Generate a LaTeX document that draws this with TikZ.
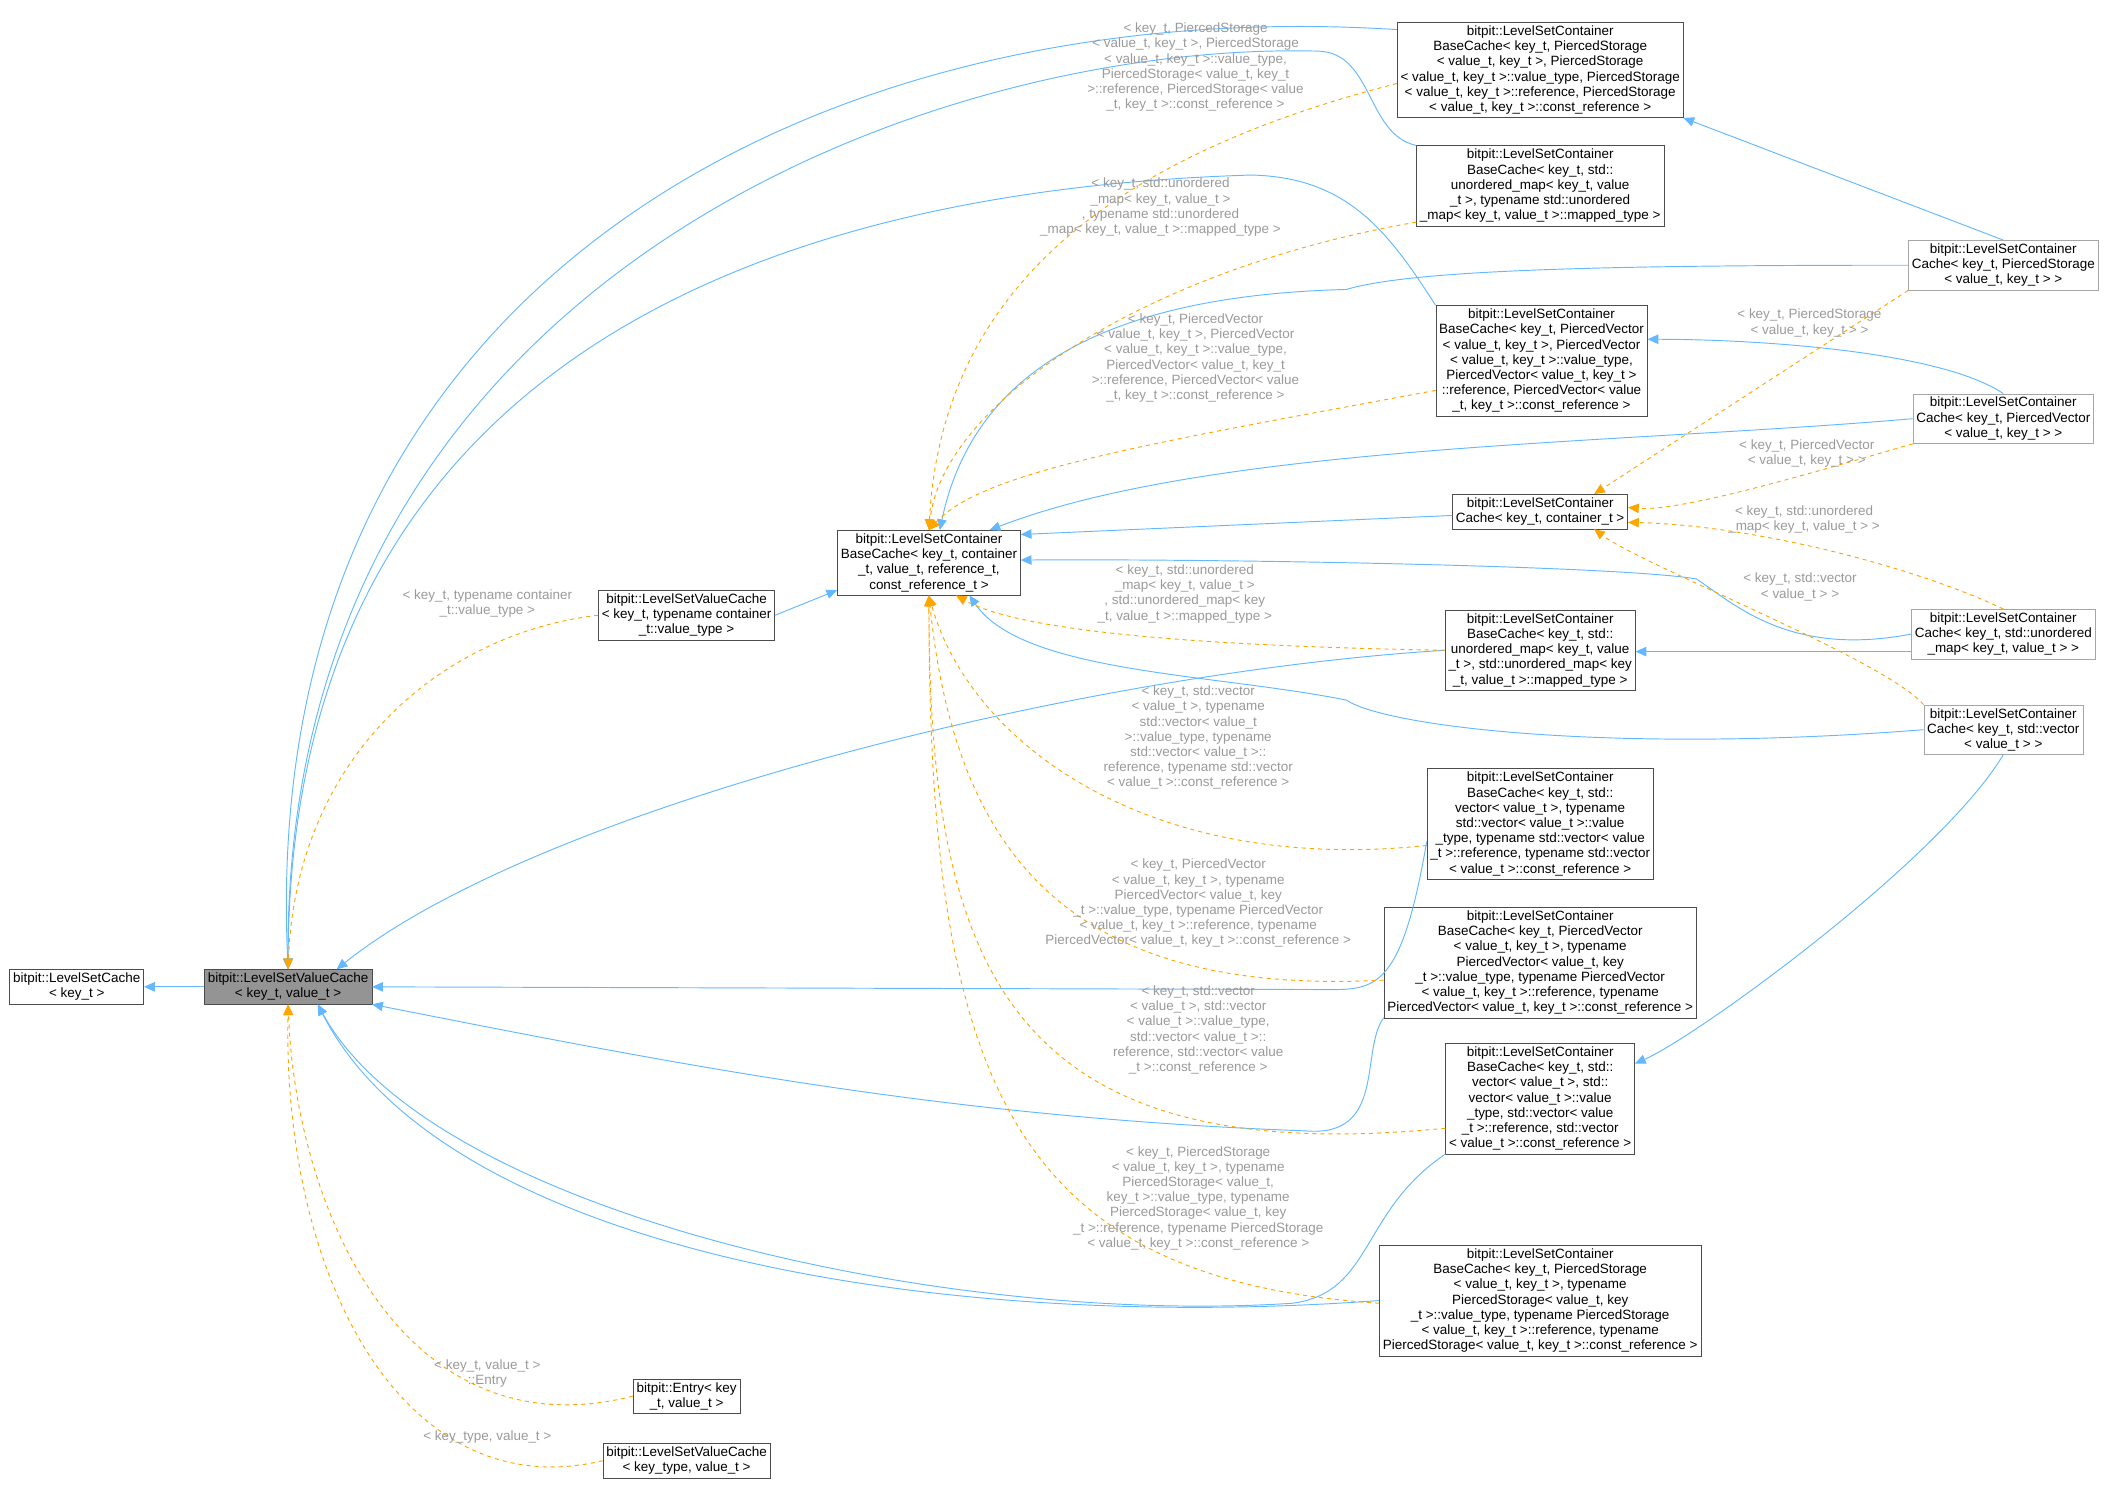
\documentclass[tikz,border=0pt]{standalone}
\usepackage{fontspec}
\setmainfont{Liberation Sans}
\usetikzlibrary{arrows.meta}
\definecolor{inhblue}{HTML}{63B8FF}
\definecolor{tmplorange}{HTML}{FFA500}
\definecolor{lblgray}{HTML}{9A9A9A}
\tikzset{
  cls/.style={draw=black!70, fill=white, align=center, inner sep=2.5pt, font=\fontsize{10}{11.3}\selectfont},
  clsg/.style={cls, draw=black!35},
  inh/.style={draw=inhblue, line width=0.7pt, -{Triangle[length=8pt,width=7pt]}},
  tmpl/.style={draw=tmplorange, line width=0.7pt, dashed, -{Triangle[length=8pt,width=7pt]}},
  lbl/.style={text=lblgray, align=center, inner sep=0pt, font=\fontsize{10}{11.3}\selectfont}
}
\begin{document}
\begin{tikzpicture}[x=1pt,y=-1pt]
  \useasboundingbox (0,0) rectangle (1568,1108);
  %Define nodes
  \node[cls] (cache) at (57,733) {bitpit::LevelSetCache\\< key\_t >};
  \node[cls, fill=black!42] (vcache) at (214,733) {bitpit::LevelSetValueCache\\< key\_t, value\_t >};
  \node[cls] (vcont) at (510,457) {bitpit::LevelSetValueCache\\< key\_t, typename container\\\_t::value\_type >};
  \node[cls] (base) at (690,418) {bitpit::LevelSetContainer\\BaseCache< key\_t, container\\\_t, value\_t, reference\_t,\\const\_reference\_t >};
  \node[cls] (bstore) at (1144,52) {bitpit::LevelSetContainer\\BaseCache< key\_t, PiercedStorage\\< value\_t, key\_t >, PiercedStorage\\< value\_t, key\_t >::value\_type, PiercedStorage\\< value\_t, key\_t >::reference, PiercedStorage\\< value\_t, key\_t >::const\_reference >};
  \node[cls] (bumap) at (1144,138) {bitpit::LevelSetContainer\\BaseCache< key\_t, std::\\unordered\_map< key\_t, value\\\_t >, typename std::unordered\\\_map< key\_t, value\_t >::mapped\_type >};
  \node[cls] (bvec) at (1145,268) {bitpit::LevelSetContainer\\BaseCache< key\_t, PiercedVector\\< value\_t, key\_t >, PiercedVector\\< value\_t, key\_t >::value\_type,\\PiercedVector< value\_t, key\_t >\\::reference, PiercedVector< value\\\_t, key\_t >::const\_reference >};
  \node[cls] (ccont) at (1144,380) {bitpit::LevelSetContainer\\Cache< key\_t, container\_t >};
  \node[cls] (bumapb) at (1144,483) {bitpit::LevelSetContainer\\BaseCache< key\_t, std::\\unordered\_map< key\_t, value\\\_t >, std::unordered\_map< key\\\_t, value\_t >::mapped\_type >};
  \node[cls] (bstdt) at (1144,612) {bitpit::LevelSetContainer\\BaseCache< key\_t, std::\\vector< value\_t >, typename\\std::vector< value\_t >::value\\\_type, typename std::vector< value\\\_t >::reference, typename std::vector\\< value\_t >::const\_reference >};
  \node[cls] (bvect) at (1144,715) {bitpit::LevelSetContainer\\BaseCache< key\_t, PiercedVector\\< value\_t, key\_t >, typename\\PiercedVector< value\_t, key\\\_t >::value\_type, typename PiercedVector\\< value\_t, key\_t >::reference, typename\\PiercedVector< value\_t, key\_t >::const\_reference >};
  \node[cls] (bstd) at (1144,816) {bitpit::LevelSetContainer\\BaseCache< key\_t, std::\\vector< value\_t >, std::\\vector< value\_t >::value\\\_type, std::vector< value\\\_t >::reference, std::vector\\< value\_t >::const\_reference >};
  \node[cls] (bstoret) at (1144,966) {bitpit::LevelSetContainer\\BaseCache< key\_t, PiercedStorage\\< value\_t, key\_t >, typename\\PiercedStorage< value\_t, key\\\_t >::value\_type, typename PiercedStorage\\< value\_t, key\_t >::reference, typename\\PiercedStorage< value\_t, key\_t >::const\_reference >};
  \node[cls] (entry) at (510,1037) {bitpit::Entry< key\\\_t, value\_t >};
  \node[cls] (vtype) at (510,1085) {bitpit::LevelSetValueCache\\< key\_type, value\_t >};
  \node[clsg] (cstore) at (1488,197) {bitpit::LevelSetContainer\\Cache< key\_t, PiercedStorage\\< value\_t, key\_t > >};
  \node[clsg] (cvec) at (1488,311) {bitpit::LevelSetContainer\\Cache< key\_t, PiercedVector\\< value\_t, key\_t > >};
  \node[clsg] (cumap) at (1488,471) {bitpit::LevelSetContainer\\Cache< key\_t, std::unordered\\\_map< key\_t, value\_t > >};
  \node[clsg] (cstd) at (1488,542) {bitpit::LevelSetContainer\\Cache< key\_t, std::vector\\< value\_t > >};

  % Inheritance
  \draw[inh] (vcache) -- (cache);
  \draw[inh] (vcont.east) -- (base.west |- vcont.north east);
  \draw[inh] (bstore.west |- 0,22) .. controls (620,-5) and (190,200) .. (vcache.north);
  \draw[inh] (bumap.north west) .. controls (1015,100) and (1020,40) .. (980,38) .. controls (700,30) and (210,200) .. (vcache.north);
  \draw[inh] (bvec.north west) .. controls (1030,170) and (1000,132) .. (930,130) .. controls (600,140) and (215,250) .. (vcache.north);
  \draw[inh] (bumapb.west) .. controls (800,500) and (400,600) .. ([xshift=36pt]vcache.north);
  \draw[inh] (bstdt.west |- 0,625) .. controls (1040,740) and (1020,735) .. (980,735) -- (vcache.east);
  \draw[inh] (bvect.west |- 0,756) .. controls (1010,780) and (1030,845) .. (970,840) .. controls (700,830) and (500,790) .. (vcache.south east);
  \draw[inh] (bstd.south west) .. controls (1010,900) and (1020,960) .. (960,968) .. controls (700,985) and (320,900) .. ([xshift=22pt]vcache.south);
  \draw[inh] (bstoret.west) .. controls (700,990) and (330,930) .. ([xshift=22pt]vcache.south);
  \draw[inh] (cstore.west) .. controls (1200,197) and (1050,200) .. (1000,215) .. controls (800,220) and (720,290) .. ([xshift=8pt]base.north);
  \draw[inh] (cvec.west) .. controls (1200,330) and (900,330) .. ([xshift=45pt]base.north);
  \draw[inh] (ccont) -- (base.east |- 0,397);
  \draw[inh] (cumap.west) .. controls (1330,488) and (1290,450) .. (1260,430) .. controls (1200,420) and (900,415) .. (base.east |- 0,416);
  \draw[inh] (cstd.west) .. controls (1200,560) and (1030,540) .. (1000,520) .. controls (900,500) and (760,500) .. ([xshift=30pt]base.south);
  \draw[inh] (cstore.north) -- (bstore.south east);
  \draw[inh] (cvec.north) .. controls (1440,260) and (1300,252) .. (bvec.east |- 0,252);
  \draw[inh] (cumap.west |- 0,484) -- (bumapb.east |- 0,484);
  \draw[inh] (cstd.south) .. controls (1440,640) and (1260,770) .. (bstd.east |- 0,790);

  % Template instances
  \draw[tmpl] (vcont.west) .. controls (330,470) and (220,560) .. (vcache.north);
  \draw[tmpl] (entry.west) .. controls (300,1080) and (220,900) .. (vcache.south);
  \draw[tmpl] (vtype.west) .. controls (300,1120) and (210,950) .. (vcache.south);
  \draw[tmpl] (bstore.west |- 0,62) .. controls (850,110) and (700,200) .. (base.north);
  \draw[tmpl] (bumap.west |- 0,165) .. controls (850,200) and (700,300) .. (base.north);
  \draw[tmpl] (bvec.west |- 0,290) .. controls (850,330) and (730,350) .. (base.north);
  \draw[tmpl] (bumapb.west) .. controls (900,480) and (760,470) .. ([xshift=20pt]base.south);
  \draw[tmpl] (bstdt.west |- 0,628) .. controls (850,650) and (720,550) .. (base.south);
  \draw[tmpl] (bvect.west |- 0,728) .. controls (800,740) and (710,640) .. (base.south);
  \draw[tmpl] (bstd.west |- 0,838) .. controls (750,870) and (690,720) .. (base.south);
  \draw[tmpl] (bstoret.west |- 0,968) .. controls (750,950) and (690,800) .. (base.south);
  \draw[tmpl] (cstore.south west) -- ([xshift=40pt]ccont.north);
  \draw[tmpl] (cvec.south west) .. controls (1350,350) and (1250,380) .. (ccont.east |- 0,377);
  \draw[tmpl] (cumap.north) .. controls (1420,420) and (1300,390) .. (ccont.east |- 0,388);
  \draw[tmpl] (cstd.north west) .. controls (1400,490) and (1220,420) .. ([xshift=40pt]ccont.south);

  % Labels
  \node[lbl] (l_vcont) at (362,448) {< key\_t, typename container\\\_t::value\_type >};
  \node[lbl] (l_entry) at (362,1020) {< key\_t, value\_t >\\::Entry};
  \node[lbl] (l_vtype) at (362,1067) {< key\_type, value\_t >};
  \node[lbl] (l_bstore) at (888,50) {< key\_t, PiercedStorage\\< value\_t, key\_t >, PiercedStorage\\< value\_t, key\_t >::value\_type,\\PiercedStorage< value\_t, key\_t\\>::reference, PiercedStorage< value\\\_t, key\_t >::const\_reference >};
  \node[lbl] (l_bumap) at (862,154) {< key\_t, std::unordered\\\_map< key\_t, value\_t >\\, typename std::unordered\\\_map< key\_t, value\_t >::mapped\_type >};
  \node[lbl] (l_bvec) at (888,266) {< key\_t, PiercedVector\\< value\_t, key\_t >, PiercedVector\\< value\_t, key\_t >::value\_type,\\PiercedVector< value\_t, key\_t\\>::reference, PiercedVector< value\\\_t, key\_t >::const\_reference >};
  \node[lbl] (l_bumapb) at (880,441) {< key\_t, std::unordered\\\_map< key\_t, value\_t >\\, std::unordered\_map< key\\\_t, value\_t >::mapped\_type >};
  \node[lbl] (l_bstdt) at (890,548) {< key\_t, std::vector\\< value\_t >, typename\\std::vector< value\_t\\>::value\_type, typename\\std::vector< value\_t >::\\reference, typename std::vector\\< value\_t >::const\_reference >};
  \node[lbl] (l_bvect) at (890,671) {< key\_t, PiercedVector\\< value\_t, key\_t >, typename\\PiercedVector< value\_t, key\\\_t >::value\_type, typename PiercedVector\\< value\_t, key\_t >::reference, typename\\PiercedVector< value\_t, key\_t >::const\_reference >};
  \node[lbl] (l_bstd) at (890,765) {< key\_t, std::vector\\< value\_t >, std::vector\\< value\_t >::value\_type,\\std::vector< value\_t >::\\reference, std::vector< value\\\_t >::const\_reference >};
  \node[lbl] (l_bstoret) at (890,890) {< key\_t, PiercedStorage\\< value\_t, key\_t >, typename\\PiercedStorage< value\_t,\\key\_t >::value\_type, typename\\PiercedStorage< value\_t, key\\\_t >::reference, typename PiercedStorage\\< value\_t, key\_t >::const\_reference >};
  \node[lbl] (l_cstore) at (1344,240) {< key\_t, PiercedStorage\\< value\_t, key\_t > >};
  \node[lbl] (l_cvec) at (1342,337) {< key\_t, PiercedVector\\< value\_t, key\_t > >};
  \node[lbl] (l_cumap) at (1340,386) {< key\_t, std::unordered\\\_map< key\_t, value\_t > >};
  \node[lbl] (l_cstd) at (1337,436) {< key\_t, std::vector\\< value\_t > >};
\end{tikzpicture}
\end{document}
